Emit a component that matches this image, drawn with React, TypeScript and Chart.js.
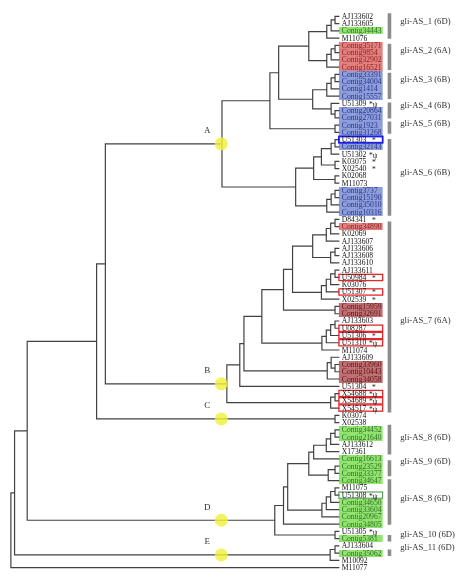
import React, { useEffect, useRef } from 'react';
import { Chart, registerables } from 'chart.js';
Chart.register(...registerables);

// ---------- DATA ----------
const leafNames = [
  'AJ133602', 'AJ133605', 'Contig34443', 'M11076',
  'Contig35171', 'Contig9854', 'Contig32902', 'Contig16521',
  'Contig33391', 'Contig34004', 'Contig1414', 'Contig15557',
  'U51309', 'Contig20864', 'Contig27031',
  'Contig1923', 'Contig31268',
  'U51303', 'Contig32143', 'U51302', 'K03075', 'X02540', 'K02068', 'M11073',
  'Contig3737', 'Contig15190', 'Contig35010', 'Contig10316',
  'D84341', 'Contig34890', 'K02069', 'AJ133607', 'AJ133606', 'AJ133608', 'AJ133610',
  'AJ133611', 'U50984', 'K03076', 'U51307', 'X02539', 'Contig15959', 'Contig32691',
  'AJ133603', 'U08287', 'U51306', 'U51310', 'M11074',
  'AJ133609', 'Contig33960', 'Contig10443', 'Contig34058', 'U51304',
  'X54688', 'X54689', 'X54517', 'K03074', 'X02538',
  'Contig34452', 'Contig21640', 'AJ133612', 'X17361',
  'Contig16613', 'Contig23529', 'Contig33377', 'Contig34647',
  'M11075', 'U51308', 'Contig34650', 'Contig33604', 'Contig20967', 'Contig34805',
  'U51305', 'Contig5381', 'AJ133604', 'Contig35062', 'M10092', 'M11077',
];

const fillGreen = ['Contig34443', 'Contig34452', 'Contig21640', 'Contig16613', 'Contig23529', 'Contig33377',
  'Contig34647', 'Contig34650', 'Contig33604', 'Contig20967', 'Contig34805', 'Contig5381', 'Contig35062'];
const fillRed = ['Contig35171', 'Contig9854', 'Contig32902', 'Contig16521', 'Contig34890'];
const fillBlue = ['Contig33391', 'Contig34004', 'Contig1414', 'Contig15557', 'Contig20864', 'Contig27031',
  'Contig1923', 'Contig31268', 'Contig32143', 'Contig3737', 'Contig15190', 'Contig35010', 'Contig10316'];
const fillDarkRed = ['Contig15959', 'Contig32691', 'Contig33960', 'Contig10443', 'Contig34058'];
const boxRed = ['U50984', 'U51307', 'U08287', 'U51306', 'U51310', 'X54688', 'X54689', 'X54517'];
const boxBlue = ['U51303'];
const boxGreen = ['U51308'];
const markStar = ['U51303', 'K03075', 'X02540', 'D84341', 'U50984', 'U51307', 'X02539', 'U51306', 'U51304'];
const markStarPsi = ['U51309', 'U51302', 'U51310', 'X54688', 'X54689', 'X54517', 'U51308', 'U51305'];

const groupLabels = ['gli-AS_1 (6D)', 'gli-AS_2 (6A)', 'gli-AS_3 (6B)', 'gli-AS_4 (6B)', 'gli-AS_5 (6B)',
  'gli-AS_6 (6B)', 'gli-AS_7 (6A)', 'gli-AS_8 (6D)', 'gli-AS_9 (6D)', 'gli-AS_8 (6D)', 'gli-AS_10 (6D)', 'gli-AS_11 (6D)'];
const groupLabelRows = [0.81, 4.72, 8.76, 12.26, 14.82, 21.56, 41.9, 58.08, 61.45, 66.43, 71.4, 73.2];
const groupBarStart = [-0.4, 3.8, 7.8, 11.9, 14.5, 16.9, 28.3, 56.3, 61.2, 63.8, 71.5, 73.5];
const groupBarEnd = [3.1, 7.4, 11.4, 14.1, 16.2, 27.5, 54.6, 60.4, 63.4, 70.1, 72.4, 74.4];

// tree: [nodeDepth, child, child]; leaves are names
const TIP_X = 342.5;
const AS1 = [329.5, [334, [338, 'AJ133602', 'AJ133605'], 'Contig34443'], 'M11076'];
const AS2 = [329.5, [334, [338, 'Contig35171', 'Contig9854'], 'Contig32902'], 'Contig16521'];
const AS3 = [329.5, [334, [338, 'Contig33391', 'Contig34004'], 'Contig1414'], 'Contig15557'];
const AS4 = [334, 'U51309', [338, 'Contig20864', 'Contig27031']];
const AS5 = [338, 'Contig1923', 'Contig31268'];
const AS6a = [316, [324, [334, [338, 'U51303', 'Contig32143'], 'U51302'], [338, 'K03075', 'X02540']], [338, 'K02068', 'M11073']];
const AS6b = [329.5, [334, [338, 'Contig3737', 'Contig15190'], 'Contig35010'], 'Contig10316'];
const cladeA = [221.7, [271, [280, [311, AS1, AS2], [315, AS3, AS4]], AS5], [297.5, AS6a, AS6b]];

const g7a = [315, [329, [333.5, [338, 'D84341', 'Contig34890'], 'K02069'], 'AJ133607'], [333.5, [338, 'AJ133606', 'AJ133608'], 'AJ133610']];
const g7b = [324, [329, [333.5, [338, 'AJ133611', 'U50984'], 'K03076'], 'U51307'], 'X02539'];
const g7c = [324.5, [329, [333.5, [338, 'AJ133603', 'U08287'], 'U51306'], 'U51310'], 'M11074'];
const g7d = [330, [334, 'AJ133609', [338, 'Contig33960', 'Contig10443']], 'Contig34058'];
const g7e = [333.5, [338, 'X54688', 'X54689'], 'X54517'];
const cladeB = [226.7, [240, [244.3, [262.7, [285, [294.3, g7a, g7b], [338, 'Contig15959', 'Contig32691']], g7c], g7d], 'U51304'], g7e];
const cladeC = [338, 'K03074', 'X02538'];

const AS8a = [316, [329, [333.5, [338, 'Contig34452', 'Contig21640'], 'AJ133612'], 'X17361'], 'Contig16613'];
const AS9 = [331, [338, 'Contig23529', 'Contig33377'], 'Contig34647'];
const AS8b = [324.5, [329, [333.5, [338, 'M11075', 'U51308'], 'Contig34650'], 'Contig33604'], 'Contig20967'];
const AS10 = [338, 'U51305', 'Contig5381'];
const cladeD = [276, [285, [289.3, [311, AS8a, AS9], AS8b], 'Contig34805'], AS10];
const cladeE = [333, [338, 'AJ133604', 'Contig35062'], 'M10092'];

const treeRoot = [4.5, [8.3, [21.3, [92.7, [101.7, cladeA, cladeB], cladeC], cladeD], cladeE], 'M11077'];

const cladeLetters = ['A', 'B', 'C', 'D', 'E'];
const cladeNodes = [cladeA, cladeB, cladeC, cladeD, cladeE];
const MARKER_X = 221;

// ---------- helpers ----------
const rowOf = (n: string) => leafNames.indexOf(n);
function nodeY(n: any): number {
  if (typeof n === 'string') return rowOf(n);
  return (nodeY(n[1]) + nodeY(n[2])) / 2;
}
function nodeX(n: any): number {
  return typeof n === 'string' ? TIP_X : n[0];
}
function collect(n: any, out: any[]) {
  if (typeof n === 'string') return;
  const x = n[0];
  const y = nodeY(n);
  for (const c of [n[1], n[2]]) {
    const cy = nodeY(c);
    out.push({ x, y }, { x, y: cy }, { x: nodeX(c), y: cy }, { x: NaN, y: NaN });
    collect(c, out);
  }
}

const BOX_L = 342;
const BOX_R = 387;
const FONT = "'Liberation Serif', 'DejaVu Serif', serif";

function fillOf(name: string) {
  if (fillGreen.includes(name)) return ['rgb(146,228,112)', '#2e6e22'];
  if (fillRed.includes(name)) return ['rgb(226,128,128)', '#8a1e1e'];
  if (fillBlue.includes(name)) return ['rgb(142,158,218)', '#27348a'];
  if (fillDarkRed.includes(name)) return ['rgb(192,112,114)', '#5a1212'];
  return null;
}

const treePlugin = {
  id: 'treeText',
  beforeDatasetsDraw(chart: any) {
    const { ctx } = chart;
    const xs = chart.scales.x, ys = chart.scales.y;
    const l = xs.getPixelForValue(BOX_L), r = xs.getPixelForValue(BOX_R);
    ctx.save();
    leafNames.forEach((name, i) => {
      const f = fillOf(name);
      if (!f) return;
      const t = Math.round(ys.getPixelForValue(i - 0.5));
      const b = Math.round(ys.getPixelForValue(i + 0.5));
      ctx.fillStyle = f[0];
      ctx.fillRect(l, t, r - l, b - t);
    });
    ctx.restore();
  },
  afterDatasetsDraw(chart: any) {
    const { ctx } = chart;
    const xs = chart.scales.x, ys = chart.scales.y;
    ctx.save();
    // outline boxes
    const l = xs.getPixelForValue(BOX_L), r = xs.getPixelForValue(BOX_R);
    const drawBox = (names: string[], color: string, w: number) => {
      names.forEach((n) => {
        const i = rowOf(n);
        const t = ys.getPixelForValue(i - 0.5) + 0.5;
        const b = ys.getPixelForValue(i + 0.5) - 0.5;
        ctx.strokeStyle = color;
        ctx.lineWidth = w;
        ctx.strokeRect(l, t, r - l, b - t);
      });
    };
    drawBox(boxRed, '#e3262a', 1.3);
    drawBox(boxBlue, '#1c1cf0', 1.8);
    drawBox(boxGreen, '#3f8f3f', 1);

    // leaf labels
    ctx.font = `7.6px ${FONT}`;
    ctx.textBaseline = 'middle';
    ctx.textAlign = 'left';
    leafNames.forEach((name, i) => {
      const f = fillOf(name);
      const y = ys.getPixelForValue(i) + 0.5;
      ctx.fillStyle = f ? f[1] : '#111';
      ctx.fillText(name, xs.getPixelForValue(TIP_X + 2.5), y);
      ctx.fillStyle = '#222';
      if (markStar.includes(name)) ctx.fillText('*', xs.getPixelForValue(376), y + 1);
      if (markStarPsi.includes(name)) ctx.fillText('*ψ', xs.getPixelForValue(373), y + 1);
    });

    // group labels
    ctx.font = `8.7px ${FONT}`;
    ctx.fillStyle = '#333';
    groupLabels.forEach((g, k) => {
      ctx.fillText(g, xs.getPixelForValue(405), ys.getPixelForValue(groupLabelRows[k]));
    });

    // clade letters
    ctx.font = `9px ${FONT}`;
    ctx.textAlign = 'center';
    cladeLetters.forEach((c, k) => {
      const px = xs.getPixelForValue(MARKER_X) - 14;
      const py = ys.getPixelForValue(nodeY(cladeNodes[k])) - 13;
      ctx.fillText(c, px, py);
    });
    ctx.restore();
  },
};

export default function App() {
  const ref = useRef<HTMLCanvasElement | null>(null);
  useEffect(() => {
    if (!ref.current) return;
    const treePts: any[] = [];
    collect(treeRoot, treePts);
    const barPts: any[] = [];
    groupBarStart.forEach((s, k) => {
      barPts.push({ x: 394, y: s }, { x: 394, y: groupBarEnd[k] }, { x: NaN, y: NaN });
    });
    const markerPts = cladeNodes.map((n) => ({ x: MARKER_X, y: nodeY(n) }));
    const chart = new Chart(ref.current, {
      type: 'scatter',
      data: {
        datasets: [
          {
            data: markerPts,
            showLine: false,
            pointRadius: 6.5,
            pointBackgroundColor: 'rgba(240,240,60,0.82)',
            pointBorderWidth: 0,
            order: 0,
          } as any,
          {
            data: treePts,
            showLine: true,
            spanGaps: false,
            borderColor: '#414141',
            borderWidth: 1.2,
            borderJoinStyle: 'miter',
            pointRadius: 0,
            order: 1,
          } as any,
          {
            data: barPts,
            showLine: true,
            spanGaps: false,
            borderColor: '#8c8c8c',
            borderWidth: 3.6,
            pointRadius: 0,
            order: 2,
          } as any,
        ],
      },
      options: {
        animation: false,
        responsive: false,
        events: [],
        layout: { padding: 0 },
        scales: {
          x: { type: 'linear', min: 0, max: 464, display: false },
          y: { type: 'linear', min: -10 / 7.421, max: 571 / 7.421, reverse: true, display: false },
        },
        plugins: { legend: { display: false }, tooltip: { enabled: false } },
      },
      plugins: [treePlugin],
    });
    return () => chart.destroy();
  }, []);
  return (
    <div style={{ position: 'absolute', left: 0, top: 0, width: 464, height: 581, background: '#fff' }}>
      <canvas ref={ref} width={464} height={581} style={{ display: 'block' }} />
    </div>
  );
}
